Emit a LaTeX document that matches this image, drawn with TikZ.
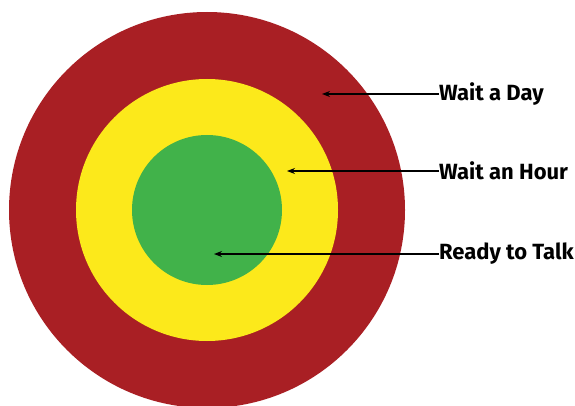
\documentclass[tikz,border=0pt]{standalone}
\usepackage{fontspec}
\setmainfont{Fira Sans}
\usetikzlibrary{arrows.meta}
\definecolor{ringred}{HTML}{A91F24}
\definecolor{ringyellow}{HTML}{FCE91B}
\definecolor{ringgreen}{HTML}{41B24A}
\begin{document}
\begin{tikzpicture}[x=1pt,y=-1pt,
  ring/.style={circle,inner sep=0pt,minimum size=#1},
  lbl/.style={anchor=west,inner sep=0pt,font=\fontsize{22}{22}\selectfont\bfseries},
  pointer/.style={-{Stealth[length=8pt,width=6pt]},line width=1.2pt,black}]
\useasboundingbox (0,0) rectangle (575,406);
\node[ring=396pt,fill=ringred] (outer) at (207,210) {};
\node[ring=262pt,fill=ringyellow] (middle) at (207,210) {};
\node[ring=150pt,fill=ringgreen] (inner) at (207,210) {};
\node[lbl] (day) at (439,94) {Wait a Day};
\node[lbl] (hour) at (439,171) {Wait an Hour};
\node[lbl] (talk) at (439,254) {Ready to Talk};
\coordinate (pday) at (322,94);
\coordinate (phour) at (287,171);
\coordinate (ptalk) at (214,254);
\draw[pointer] (day.west) -- (pday);
\draw[pointer] (hour.west) -- (phour);
\draw[pointer] (talk.west) -- (ptalk);
\end{tikzpicture}
\end{document}
